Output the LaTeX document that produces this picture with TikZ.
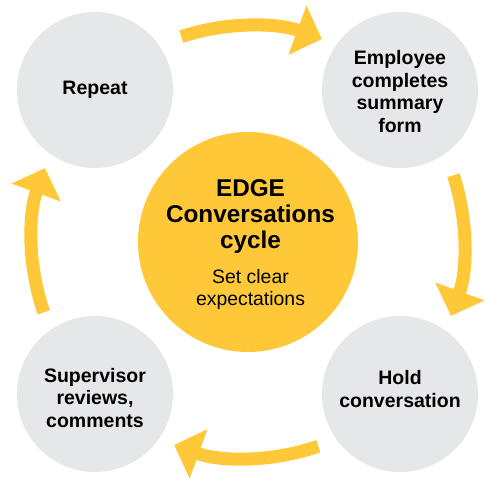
\documentclass[tikz,border=0pt]{standalone}
\usepackage{fontspec}
\setmainfont{Liberation Sans}
\usetikzlibrary{arrows.meta}
\definecolor{edgeyellow}{RGB}{254,200,56}
\definecolor{edgegray}{RGB}{230,231,232}
\begin{document}
\begin{tikzpicture}[x=1pt,y=1pt,
  stepcircle/.style={circle, fill=edgegray, minimum size=156pt, inner sep=0pt},
  hubcircle/.style={circle, fill=edgeyellow, minimum size=220pt, inner sep=0pt},
  steptext/.style={align=center, font=\fontsize{19.5}{22.5}\selectfont\bfseries, inner sep=0pt},
  hubtitle/.style={align=center, font=\fontsize{24.3}{25.8}\selectfont\bfseries, inner sep=0pt},
  hubsub/.style={align=center, font=\fontsize{19.4}{22}\selectfont, inner sep=0pt},
  cyclearrow/.style={draw=edgeyellow, line width=13pt, -{Triangle[length=26pt,width=51pt]}}
]
\useasboundingbox (0,0) rectangle (487,487);
\node[hubcircle] (hub) at (248,245) {};
\node[stepcircle] (rep) at (95,397) {};
\node[stepcircle] (emp) at (400,397) {};
\node[stepcircle] (sup) at (95,93) {};
\node[stepcircle] (hold) at (400,93) {};

\node[steptext] (rept) at (95,397) {Repeat};
\node[steptext] (empt) at (400,395.4) {Employee\\completes\\summary\\form};
\node[steptext] (supt) at (95,89.1) {Supervisor\\reviews,\\comments};
\node[steptext] (holdt) at (400,98) {Hold\\conversation};
\node[hubtitle] (hubt) at (250.5,270.2) {EDGE\\Conversations\\cycle};
\node[hubsub] (hubs) at (250.5,198) {Set clear\\expectations};

\draw[cyclearrow] ([shift={(108:216)}]hub.center) arc[start angle=108, end angle=70, radius=216];
\draw[cyclearrow] ([shift={(18:216)}]hub.center) arc[start angle=18, end angle=-20, radius=216];
\draw[cyclearrow] ([shift={(-71:216)}]hub.center) arc[start angle=-71, end angle=-110, radius=216];
\draw[cyclearrow] ([shift={(199:216)}]hub.center) arc[start angle=199, end angle=160, radius=216];
\end{tikzpicture}
\end{document}
